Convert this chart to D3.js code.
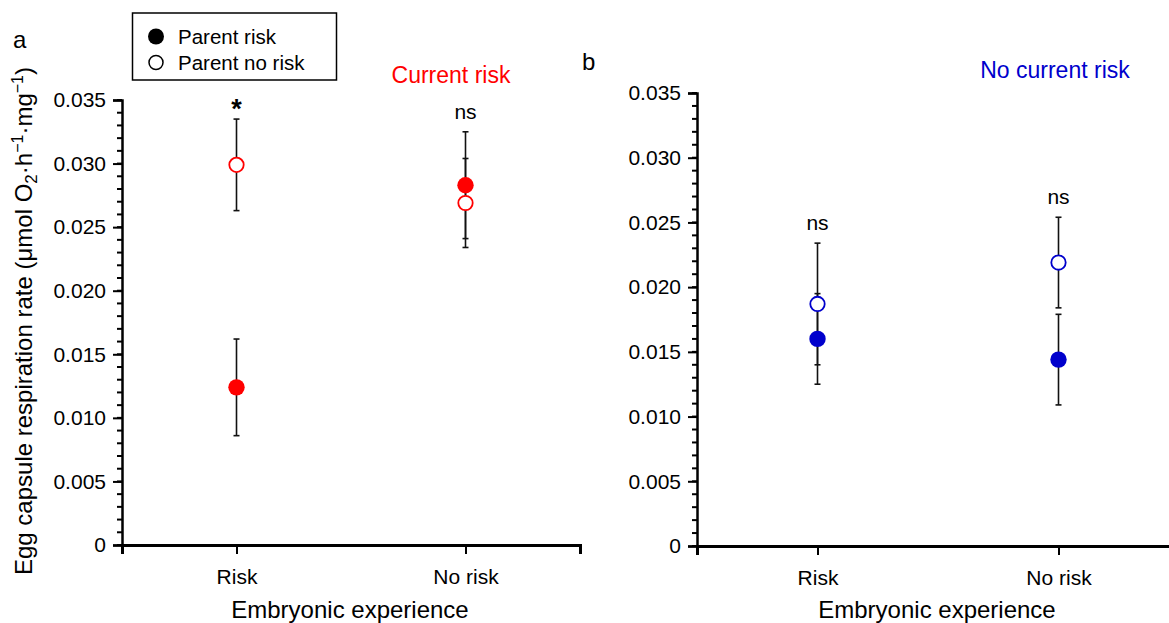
<!DOCTYPE html>
<html>
<head>
<meta charset="utf-8">
<script src="https://cdn.jsdelivr.net/npm/d3@7/dist/d3.min.js"></script>
<style>
  body { margin: 0; background: #fff; }
  svg { display: block; font-family: "Liberation Sans", Arial, sans-serif; }
</style>
</head>
<body>
<svg id="chart" width="1169" height="623"></svg>
<script>
const categories = ["Risk", "No risk"]
const yTicks = [0, 0.005, 0.010, 0.015, 0.020, 0.025, 0.030, 0.035]

// panel a: current risk
const aParentRisk = [0.0124, 0.0283]
const aParentRiskSE = [0.0038, 0.0042]
const aParentNoRisk = [0.0299, 0.0269]
const aParentNoRiskSE = [0.0036, 0.0035]
const aSig = ["*", "ns"]

// panel b: no current risk
const bParentRisk = [0.0160, 0.0144]
const bParentRiskSE = [0.0035, 0.0035]
const bParentNoRisk = [0.0187, 0.0219]
const bParentNoRiskSE = [0.0047, 0.0035]
const bSig = ["ns", "ns"]

const svg = d3.select("#chart")

function drawPanel(cfg) {
  const g = svg.append("g")

  const x = d3.scalePoint().domain(categories).range([cfg.left, cfg.left + cfg.width]).padding(0.5)
  const y = d3.scaleLinear().domain([0, 0.035]).range([cfg.bottom, cfg.top])

  // minor ticks every 0.001
  const minor = d3.range(0, 36).map(i => i / 1000)
  g.append("g")
    .selectAll("line")
    .data(minor)
    .join("line")
    .attr("x1", cfg.left - 5).attr("x2", cfg.left)
    .attr("y1", d => y(d)).attr("y2", d => y(d))
    .attr("stroke", "#000").attr("stroke-width", 2)

  const yAxis = g.append("g")
    .attr("transform", `translate(${cfg.left},0)`)
    .call(d3.axisLeft(y).tickValues(yTicks).tickSize(9).tickPadding(7)
      .tickFormat(d => d === 0 ? "0" : d3.format(".3f")(d)))
  yAxis.select(".domain").attr("stroke-width", 2.5)
  yAxis.selectAll(".tick line").attr("stroke-width", 2)
  yAxis.selectAll("text").attr("font-size", 21).attr("fill", "#000")

  const xAxis = g.append("g")
    .attr("transform", `translate(0,${cfg.bottom})`)
    .call(d3.axisBottom(x).tickSize(9).tickPadding(15).tickSizeOuter(9))
  xAxis.select(".domain").attr("stroke-width", 3)
  xAxis.selectAll(".tick line").attr("stroke-width", 2)
  xAxis.selectAll("text").attr("font-size", 21).attr("fill", "#000")

  g.append("text")
    .attr("x", cfg.left + cfg.width / 2 - 1)
    .attr("y", 618)
    .attr("text-anchor", "middle")
    .attr("font-size", 24)
    .text("Embryonic experience")

  const series = [
    { mean: cfg.risk, se: cfg.riskSE, filled: true },
    { mean: cfg.noRisk, se: cfg.noRiskSE, filled: false }
  ]

  // error bars
  series.forEach(s => {
    const eb = g.append("g")
    eb.selectAll("line.v")
      .data(categories)
      .join("line")
      .attr("class", "v")
      .attr("x1", d => x(d)).attr("x2", d => x(d))
      .attr("y1", (d, i) => y(s.mean[i] + s.se[i]))
      .attr("y2", (d, i) => y(s.mean[i] - s.se[i]))
      .attr("stroke", "#111").attr("stroke-width", 1.6)
    ;[1, -1].forEach(sign => {
      eb.selectAll(null)
        .data(categories)
        .join("line")
        .attr("x1", d => x(d) - 3).attr("x2", d => x(d) + 3)
        .attr("y1", (d, i) => y(s.mean[i] + sign * s.se[i]))
        .attr("y2", (d, i) => y(s.mean[i] + sign * s.se[i]))
        .attr("stroke", "#111").attr("stroke-width", 1.6)
    })
  })

  // points
  series.forEach(s => {
    g.append("g")
      .selectAll("circle")
      .data(categories)
      .join("circle")
      .attr("cx", d => x(d))
      .attr("cy", (d, i) => y(s.mean[i]))
      .attr("r", s.filled ? 8.2 : 7.2)
      .attr("fill", s.filled ? cfg.color : "#fff")
      .attr("stroke", cfg.color)
      .attr("stroke-width", s.filled ? 0 : 1.8)
  })

  // significance labels above the highest error bar
  g.append("g")
    .selectAll("text")
    .data(categories)
    .join("text")
    .attr("x", d => x(d))
    .attr("y", (d, i) => {
      const top = Math.max(cfg.risk[i] + cfg.riskSE[i], cfg.noRisk[i] + cfg.noRiskSE[i])
      return y(top) - (cfg.sig[i] === "*" ? 1 : 13)
    })
    .attr("text-anchor", "middle")
    .attr("font-size", (d, i) => cfg.sig[i] === "*" ? 27 : 21)
    .attr("font-weight", (d, i) => cfg.sig[i] === "*" ? "bold" : null)
    .text((d, i) => cfg.sig[i])

  g.append("text")
    .attr("x", cfg.titleX).attr("y", cfg.titleY)
    .attr("text-anchor", "middle")
    .attr("font-size", 23)
    .attr("fill", cfg.color)
    .text(cfg.title)

  g.append("text")
    .attr("x", cfg.letterX).attr("y", cfg.letterY)
    .attr("font-size", 24)
    .text(cfg.letter)
}

drawPanel({
  left: 122, width: 458, top: 100, bottom: 545,
  risk: aParentRisk, riskSE: aParentRiskSE,
  noRisk: aParentNoRisk, noRiskSE: aParentNoRiskSE,
  sig: aSig, color: "#ff0000", title: "Current risk",
  titleX: 451, titleY: 83, letter: "a", letterX: 13, letterY: 48
})

drawPanel({
  left: 697, width: 482, top: 93, bottom: 546,
  risk: bParentRisk, riskSE: bParentRiskSE,
  noRisk: bParentNoRisk, noRiskSE: bParentNoRiskSE,
  sig: bSig, color: "#0000cc", title: "No current risk",
  titleX: 1055, titleY: 78, letter: "b", letterX: 582, letterY: 70
})

// y axis title
const yTitle = svg.append("text")
  .attr("transform", "translate(32,321) rotate(-90)")
  .attr("text-anchor", "middle")
  .attr("font-size", 24)
yTitle.append("tspan").text("Egg capsule respiration rate (μmol O")
yTitle.append("tspan").attr("font-size", 17).attr("dy", 5).text("2")
yTitle.append("tspan").attr("dy", -5).text("·h")
yTitle.append("tspan").attr("font-size", 16).attr("dy", -9).text("−1")
yTitle.append("tspan").attr("dy", 9).text("·mg")
yTitle.append("tspan").attr("font-size", 16).attr("dy", -9).text("−1")
yTitle.append("tspan").attr("dy", 9).text(")")

// legend
const legend = svg.append("g")
legend.append("rect")
  .attr("x", 132.5).attr("y", 13).attr("width", 204).attr("height", 67)
  .attr("fill", "#fff").attr("stroke", "#000").attr("stroke-width", 1.5)
const legendItems = ["Parent risk", "Parent no risk"]
legend.selectAll("circle")
  .data(legendItems)
  .join("circle")
  .attr("cx", 156).attr("cy", (d, i) => 36.5 + i * 26)
  .attr("r", (d, i) => i === 0 ? 8 : 7)
  .attr("fill", (d, i) => i === 0 ? "#000" : "#fff")
  .attr("stroke", "#000").attr("stroke-width", (d, i) => i === 0 ? 0 : 1.5)
legend.selectAll("text")
  .data(legendItems)
  .join("text")
  .attr("x", 178).attr("y", (d, i) => 44 + i * 26)
  .attr("font-size", 20.5)
  .text(d => d)
</script>
</body>
</html>
